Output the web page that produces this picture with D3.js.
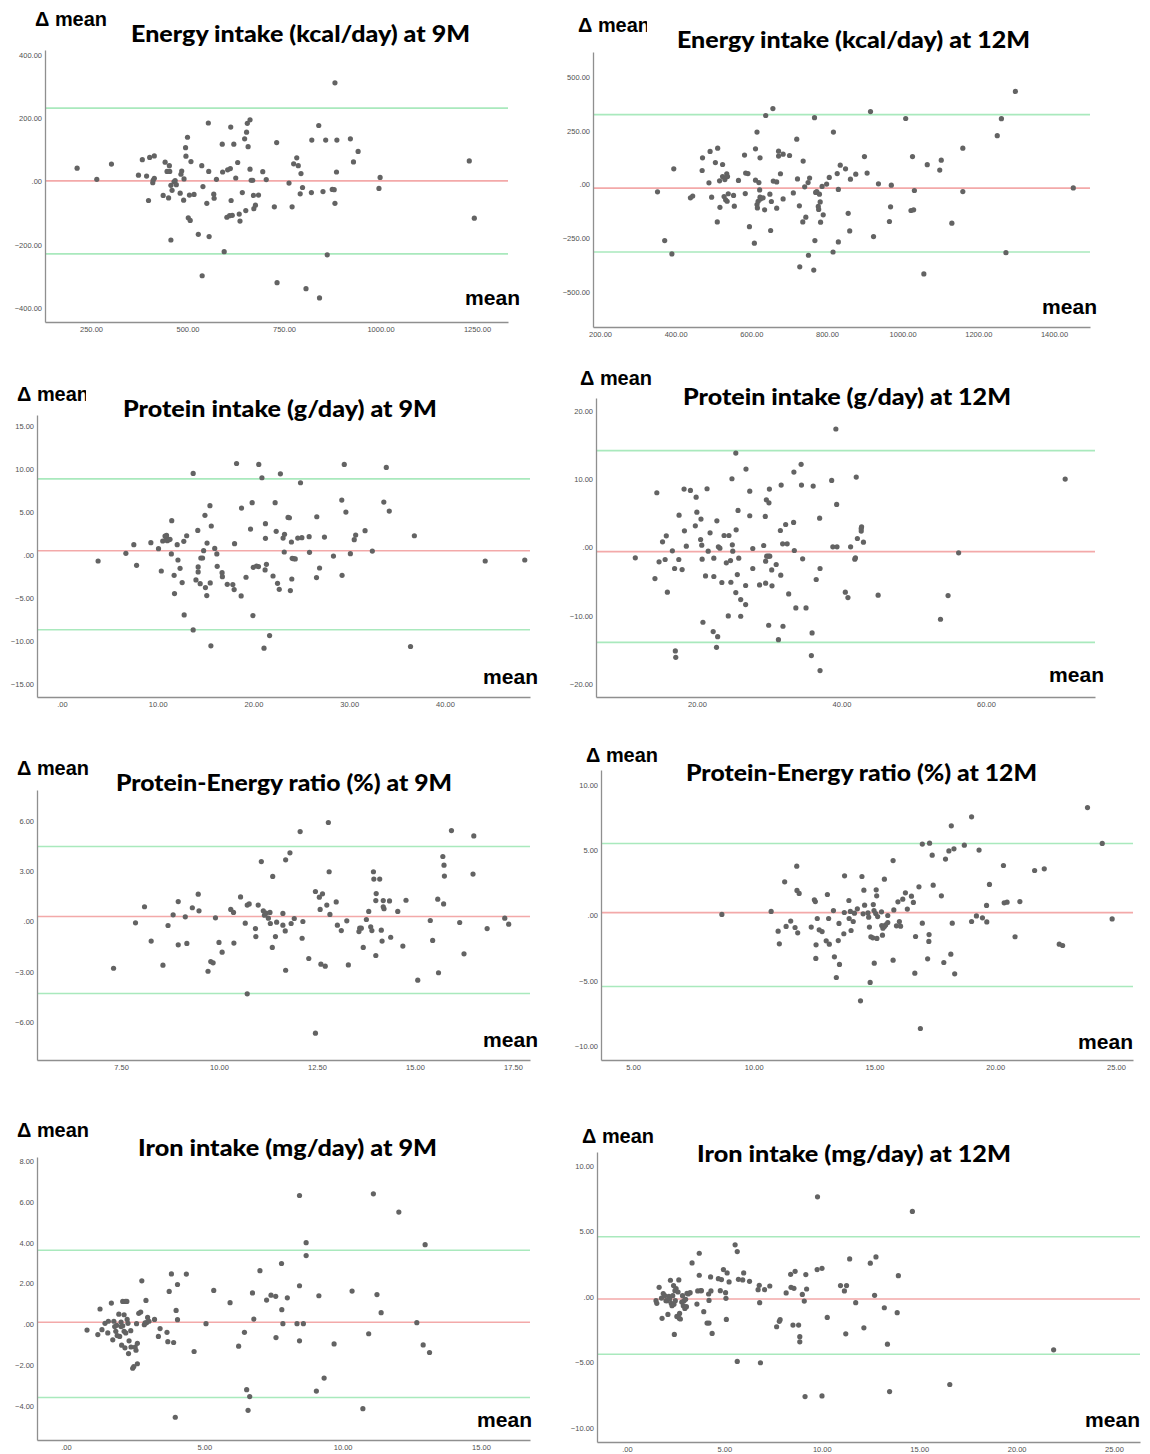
<!DOCTYPE html>
<html><head><meta charset="utf-8">
<script src="https://cdn.jsdelivr.net/npm/d3@7"></script>
<style>body{margin:0;background:#fff}</style>
</head><body>
<svg id="c" width="1150" height="1454"></svg>
<script>
// ---------- DATA: [mean, difference] pairs ----------
const energy9M = [[214,42],[265,7],[303,55],[373,20],[383,69],[394,17],[399,-60],[402,76],[410,-4],[411,4],[414,81],[414,10],[437,-44],[442,61],[447,32],[451,-52],[453,50],[454,32],[457,-185],[457,-12],[460,-28],[465,-1],[468,3],[471,-10],[481,-37],[483,23],[485,33],[490,-59],[491,8],[495,107],[496,80],[500,140],[502,-115],[505,-43],[507,-123],[509,63],[517,-41],[528,-167],[537,50],[538,-298],[540,-16],[550,-69],[554,185],[555,32],[556,-174],[568,-40],[569,-53],[575,7],[590,118],[591,30],[595,-222],[602,-113],[604,37],[609,-108],[611,41],[612,172],[613,-60],[616,-107],[620,118],[625,11],[630,60],[634,-103],[636,-125],[642,-35],[648,135],[651,-92],[653,156],[655,184],[657,110],[662,195],[662,39],[665,4],[669,4],[671,-44],[672,-86],[676,-75],[684,-43],[695,31],[704,6],[725,-80],[731,123],[732,-320],[763,-5],[771,-80],[775,56],[783,75],[787,50],[792,-39],[794,25],[798,-19],[807,-339],[821,-35],[822,131],[840,177],[842,-368],[851,-32],[858,131],[862,-232],[875,-25],[880,-26],[882,-69],[882,312],[886,30],[887,131],[922,135],[930,62],[942,95],[996,-22],[999,13],[1230,65],[1243,-116]];
const energy12M = [[352,-34],[371,-261],[390,-323],[395,73],[439,-62],[445,-54],[470,65],[471,124],[488,8],[491,154],[495,-59],[505,102],[510,-174],[511,169],[516,17],[517,-106],[524,93],[524,37],[528,-56],[530,23],[532,-71],[535,50],[536,-78],[537,37],[539,-43],[553,-51],[555,-101],[566,19],[582,137],[584,-42],[585,53],[591,51],[595,-196],[608,-273],[611,166],[611,20],[615,244],[615,-93],[616,-109],[618,-78],[620,9],[622,-25],[623,124],[623,-59],[624,-67],[631,-62],[635,-118],[638,321],[649,-45],[651,-214],[653,-79],[657,353],[658,16],[667,12],[667,-110],[672,155],[672,132],[677,50],[684,-67],[684,141],[701,135],[711,-39],[720,211],[722,26],[727,-99],[728,-383],[736,-174],[737,109],[741,-11],[744,-152],[750,9],[751,-329],[754,30],[765,-398],[767,311],[768,-261],[770,-37],[773,-33],[777,-102],[778,-116],[780,-45],[782,-81],[783,-175],[787,-9],[790,-141],[799,2],[806,33],[816,-314],[817,244],[827,51],[830,-23],[830,-267],[835,90],[849,73],[856,-134],[860,-216],[862,25],[876,48],[899,130],[906,53],[915,339],[923,-242],[936,3],[965,-172],[968,-104],[970,-3],[1008,307],[1022,-121],[1026,130],[1029,-118],[1031,-28],[1056,-416],[1065,92],[1098,67],[1102,113],[1130,-180],[1159,169],[1159,-33],[1250,227],[1261,306],[1273,-317],[1298,433],[1451,-16]];
const protein9M = [[3.77,-0.70],[6.67,0.19],[7.50,1.20],[7.79,-1.20],[9.28,1.43],[10.08,0.74],[10.37,-1.86],[10.52,1.63],[10.76,2.21],[10.88,1.97],[10.92,2.28],[10.99,1.66],[11.16,1.78],[11.28,1.82],[11.42,0.12],[11.46,3.99],[11.71,-2.36],[11.75,-4.49],[12.03,1.20],[12.11,-0.58],[12.33,-1.55],[12.55,-3.21],[12.72,1.59],[12.76,-6.97],[13.02,2.24],[13.70,9.48],[13.70,-8.71],[13.99,-2.90],[14.18,2.86],[14.22,-1.39],[14.22,-1.97],[14.43,-3.33],[14.50,-0.35],[14.68,-0.35],[14.79,0.50],[14.93,4.61],[14.98,-3.79],[15.12,-4.72],[15.15,1.39],[15.45,5.73],[15.48,-3.25],[15.55,-10.56],[15.59,3.37],[15.95,0.77],[16.17,0.12],[16.21,-1.32],[16.72,-2.05],[16.75,-2.52],[17.26,-3.41],[17.84,-3.44],[17.98,-4.02],[18.02,1.32],[18.23,10.64],[18.71,-4.76],[18.75,5.46],[19.22,-2.59],[19.69,3.02],[19.86,6.08],[19.94,-7.04],[19.98,-1.43],[20.31,-1.28],[20.52,-1.35],[20.55,10.53],[20.88,8.98],[21.10,-10.84],[21.21,-1.74],[21.25,1.94],[21.25,3.64],[21.35,-1.08],[21.68,-9.37],[22.04,-2.44],[22.26,6.08],[22.37,2.75],[22.51,-3.29],[22.69,-3.99],[22.81,9.44],[23.09,1.97],[23.21,0.35],[23.24,2.40],[23.61,4.37],[23.75,4.33],[23.85,-4.14],[23.96,1.51],[24.00,-2.79],[24.04,-0.39],[24.18,-0.43],[24.36,-0.46],[24.62,1.97],[24.91,8.40],[25.05,2.01],[25.81,2.13],[25.85,0.31],[26.58,-2.63],[26.61,4.45],[26.90,-1.51],[27.41,2.09],[28.35,-0.12],[29.22,6.39],[29.25,-2.36],[29.48,10.53],[29.65,4.99],[30.12,0.15],[30.52,1.78],[30.67,2.32],[31.65,2.83],[32.41,0.46],[33.61,6.15],[33.87,10.18],[34.18,5.11],[36.40,-10.64],[36.80,2.24],[44.20,-0.70],[48.33,-0.58]];
const protein12M = [[11.46,-1.52],[14.18,-4.55],[14.44,8.02],[14.75,-2.10],[15.23,0.83],[15.59,-1.76],[15.75,1.71],[15.90,-6.55],[16.59,-0.49],[16.90,-3.08],[17.48,-1.76],[17.52,4.74],[17.94,-3.23],[18.21,8.56],[18.26,2.45],[18.52,0.20],[19.09,8.36],[19.77,3.18],[19.88,7.38],[19.98,5.18],[20.50,1.17],[20.55,4.16],[20.66,0.34],[20.71,-1.71],[21.18,-4.16],[21.39,8.61],[21.55,-0.54],[21.81,2.15],[20.82,-10.95],[22.33,-1.56],[22.33,-4.25],[22.75,3.91],[22.96,0.10],[23.17,-0.10],[23.44,-5.13],[23.75,1.76],[24.06,-2.25],[24.33,-10.02],[24.42,1.76],[24.64,-1.91],[24.69,-5.09],[24.84,10.07],[24.89,0.39],[24.95,-0.54],[25.37,-6.60],[25.37,13.84],[25.42,2.59],[25.58,-3.96],[25.68,5.43],[25.78,-1.56],[26.05,-7.63],[26.05,-10.07],[26.73,-5.57],[26.73,-8.36],[26.78,11.49],[27.30,4.65],[27.30,8.26],[27.72,-0.15],[27.72,-3.08],[28.66,-5.48],[29.23,0.29],[29.45,4.55],[29.50,-2.00],[29.50,-5.23],[29.60,6.99],[29.65,-1.27],[29.87,-1.27],[29.92,-11.39],[29.96,6.55],[30.02,8.56],[30.07,-1.27],[30.34,-3.28],[30.38,-5.62],[30.96,-2.49],[31.27,-13.50],[31.54,2.49],[31.59,-4.06],[31.65,9.14],[31.85,0.54],[31.90,-11.54],[32.27,3.37],[32.48,0.54],[32.69,-6.80],[33.37,3.67],[33.41,11.05],[33.47,-0.44],[33.68,-8.85],[34.41,12.18],[34.46,9.14],[34.62,-1.66],[35.09,-8.85],[35.93,-12.52],[36.08,9.00],[35.83,-15.84],[36.50,-4.69],[36.97,4.30],[37.03,-3.08],[37.03,-18.04],[38.64,9.83],[38.80,0.10],[39.33,6.31],[39.38,0.10],[40.53,-6.55],[40.89,-7.34],[41.26,0.10],[41.84,-1.71],[41.93,-1.52],[42.04,10.32],[42.20,1.32],[42.73,2.79],[42.73,2.40],[42.78,3.03],[43.04,0.78],[45.07,-6.99],[53.70,-10.51],[54.75,-7.04],[56.21,-0.78],[70.96,10.02],[39.22,17.36],[22.24,-12.32],[22.86,-13.06],[22.70,-14.62],[17.0,-15.16],[17.06,-16.09]];
const peRatio9M = [[7.31,-2.79],[7.87,-0.08],[8.10,0.88],[8.27,-1.17],[8.57,-2.61],[8.70,-0.24],[8.83,0.40],[8.96,1.19],[8.96,-1.39],[9.14,0.28],[9.18,-1.31],[9.32,0.82],[9.47,1.63],[9.49,0.64],[9.72,-2.97],[9.79,-2.39],[9.85,-2.47],[9.91,0.22],[10.0,-1.25],[10.08,-1.83],[10.30,0.72],[10.37,0.54],[10.38,-1.29],[10.55,1.47],[10.67,-0.10],[10.72,0.98],[10.77,1.05],[10.93,-0.42],[10.94,-0.90],[11.0,0.98],[11.08,3.58],[11.13,0.64],[11.16,0.38],[11.20,0.50],[11.26,0.20],[11.30,0.54],[11.31,-0.12],[11.36,-1.55],[11.37,2.69],[11.44,-0.90],[11.47,-0.04],[11.63,0.48],[11.63,-0.22],[11.69,-0.56],[11.70,3.68],[11.70,-2.91],[11.81,4.10],[11.84,-0.12],[11.92,0.18],[12.07,5.37],[12.12,-1.0],[12.14,0],[12.29,-2.21],[12.46,1.79],[12.56,1.45],[12.58,0.72],[12.60,-2.55],[12.64,1.65],[12.71,-2.67],[12.75,0.98],[12.79,5.91],[12.81,2.97],[12.83,0.42],[12.99,1.17],[13.02,-0.22],[13.12,-0.54],[13.26,0.04],[13.30,-2.59],[13.57,-0.60],[13.59,-0.40],[13.63,-0.40],[13.68,-1.55],[13.76,0.12],[13.82,0.60],[13.87,-0.32],[13.90,-0.54],[13.94,2.97],[13.95,2.53],[14.0,-2.03],[14.0,1.25],[14.01,1.67],[14.10,2.53],[14.14,-0.52],[14.16,-1.17],[14.19,1.25],[14.19,0.88],[14.21,0.76],[14.35,1.23],[14.38,-0.94],[14.56,0.60],[14.69,-1.47],[14.77,1.27],[15.07,-3.50],[15.39,0.06],[15.45,-1.13],[15.58,1.33],[15.60,-3.06],[15.71,3.88],[15.73,1.05],[15.74,3.36],[15.75,2.71],[15.93,5.43],[16.14,-0.06],[16.25,-1.93],[16.48,2.83],[16.50,5.11],[16.84,-0.42],[17.29,0.20],[17.39,-0.16],[10.72,-4.32],[12.46,-6.67]];
const peRatio12M = [[8.68,0.08],[10.72,0.31],[11.01,-1.20],[11.06,-2.17],[11.28,2.58],[11.34,-0.84],[11.53,-0.43],[11.71,-0.92],[11.78,3.78],[11.79,1.92],[11.82,-1.33],[11.88,1.69],[12.38,-0.89],[12.51,1.20],[12.55,1.07],[12.57,-3.29],[12.58,-2.25],[12.63,-0.23],[12.71,-1.10],[12.83,-1.23],[13.0,-1.94],[13.05,1.61],[13.10,-0.23],[13.13,-2.20],[13.30,0.38],[13.34,-3.17],[13.42,-4.75],[13.50,-1.92],[13.53,-0.61],[13.55,-3.75],[13.73,-1.40],[13.75,0.23],[13.76,3.04],[13.94,1.15],[13.95,-0.23],[14.0,0.31],[14.03,-1.15],[14.12,-0.46],[14.17,0.18],[14.29,0.51],[14.48,2.99],[14.53,0.13],[14.56,1.94],[14.59,0.79],[14.73,0.20],[14.76,-0.13],[14.79,-0.89],[14.82,-5.13],[14.85,-1.63],[14.93,-1.71],[14.95,0.84],[14.98,0.38],[14.99,-3.65],[15.05,0.15],[15.07,1.97],[15.09,1.51],[15.10,-1.76],[15.13,-0.08],[15.29,0.28],[15.30,-0.77],[15.33,-1.51],[15.35,-0.97],[15.41,2.78],[15.41,-0.84],[15.46,-0.72],[15.55,0],[15.55,-0.54],[15.77,4.21],[15.77,-3.42],[15.80,0.43],[15.91,-0.79],[15.97,1.05],[16.03,-0.46],[16.08,-0.82],[16.17,1.25],[16.28,1.74],[16.36,0.49],[16.53,1.48],[16.61,1.0],[16.67,-4.42],[16.70,-1.61],[16.84,2.20],[16.90,-8.66],[16.98,5.47],[16.98,-0.59],[17.20,-3.32],[17.25,-1.99],[17.26,-1.46],[17.28,5.54],[17.39,4.62],[17.43,2.32],[17.77,1.51],[17.87,-3.60],[17.94,4.32],[18.08,4.95],[18.16,-2.96],[18.18,6.87],[18.22,-0.59],[18.29,5.11],[18.32,-4.47],[18.72,5.39],[19.02,7.56],[19.02,-0.46],[19.22,-0.03],[19.33,5.01],[19.47,-0.18],[19.64,0.77],[19.65,-0.49],[19.76,2.38],[20.34,3.83],[20.37,0.97],[20.49,1.02],[20.82,-1.63],[21.02,1.07],[21.63,3.45],[22.03,3.58],[22.65,-2.20],[22.79,-2.30],[23.82,8.27],[24.43,5.52],[24.84,-0.26],[14.42,-6.54]];
const iron9M = [[0.76,-0.28],[1.15,-0.50],[1.23,0.75],[1.30,-0.26],[1.41,0.05],[1.51,-0.42],[1.53,0.15],[1.64,1.04],[1.69,-0.76],[1.73,0.15],[1.76,-0.11],[1.80,-0.34],[1.83,-0.05],[1.85,-0.55],[1.91,0.50],[1.94,-0.59],[1.99,0.11],[1.99,-0.11],[2.01,-1.02],[2.05,1.12],[2.05,-0.07],[2.10,0.47],[2.10,-0.34],[2.13,-1.15],[2.15,1.12],[2.16,-0.42],[2.20,1.12],[2.21,0.24],[2.24,0.05],[2.26,-1.43],[2.28,-0.81],[2.34,-0.31],[2.35,-1.11],[2.41,-2.15],[2.45,-2.07],[2.50,-1.11],[2.53,-1.27],[2.55,0.03],[2.58,-0.93],[2.58,-1.93],[2.63,0.54],[2.70,0.60],[2.74,2.13],[2.83,-0.02],[2.86,0.07],[2.89,1.17],[2.91,0.08],[2.95,0.34],[3.0,0.15],[3.20,0.24],[3.34,-0.59],[3.40,-0.21],[3.65,-0.39],[3.68,-0.85],[3.73,1.61],[3.81,2.47],[3.89,-0.89],[3.98,0.68],[4.03,1.95],[4.03,0.23],[3.95,-4.55],[4.35,2.46],[4.63,-1.33],[5.06,0.03],[5.34,1.66],[5.93,1.06],[6.24,-1.07],[6.45,-0.39],[6.53,-3.20],[6.58,-4.21],[6.64,-3.54],[6.74,1.54],[6.79,0.26],[7.01,2.63],[7.25,1.19],[7.41,1.43],[7.58,1.37],[7.59,-0.65],[7.79,2.98],[7.80,0.72],[7.84,0.03],[8.0,1.30],[8.35,0.03],[8.44,6.31],[8.44,1.89],[8.44,-0.81],[8.58,0.03],[8.68,4.0],[8.68,3.37],[9.05,-3.27],[9.14,1.40],[9.33,-2.63],[9.69,-0.96],[10.34,1.63],[10.73,-4.13],[10.94,-0.46],[11.11,6.39],[11.24,1.46],[11.39,0.57],[12.03,5.50],[12.68,0.08],[12.91,-1.01],[12.98,3.90],[13.14,-1.38]];
const iron12M = [[1.49,-0.28],[1.53,-0.48],[1.65,0.74],[1.77,-0.08],[1.80,-1.63],[1.86,0.26],[1.94,0.10],[2.00,-0.28],[2.06,-0.28],[2.10,-1.33],[2.15,0.05],[2.19,-0.15],[2.23,1.28],[2.27,-0.48],[2.31,-0.66],[2.35,0.10],[2.39,0.87],[2.41,-0.56],[2.43,-2.86],[2.46,0.48],[2.48,-0.28],[2.52,0.64],[2.56,-1.48],[2.62,0.38],[2.66,1.30],[2.68,-1.63],[2.70,-1.25],[2.74,-1.68],[2.81,-0.38],[2.85,0.10],[2.89,-0.66],[2.93,-0.28],[2.97,-0.87],[3.01,-0.18],[3.05,-0.74],[3.08,0.28],[3.14,0.23],[3.24,0.33],[3.34,2.60],[3.59,-0.54],[3.63,0.46],[3.71,1.66],[3.71,3.34],[3.78,0.48],[3.82,0.48],[3.94,-1.12],[4.11,-1.99],[4.19,0.23],[4.21,-0.26],[4.29,1.53],[4.31,0.46],[4.37,-2.78],[4.21,-1.99],[4.69,1.40],[4.79,0.48],[4.85,1.33],[4.95,2.09],[5.06,0.33],[5.08,-0.10],[5.10,-1.71],[5.14,1.84],[5.24,1.15],[5.55,3.98],[5.66,3.47],[5.66,-4.92],[5.72,1.35],[5.94,1.30],[5.99,1.84],[6.29,1.20],[6.73,0.56],[6.79,0.89],[6.81,-0.43],[6.85,-5.02],[7.06,0.56],[7.33,0.84],[7.68,-2.27],[7.82,-1.86],[7.86,-1.73],[8.17,0.31],[8.40,1.73],[8.42,0.74],[8.52,-2.14],[8.57,0.66],[8.63,1.96],[8.81,-2.14],[8.87,-3.03],[8.87,-3.42],[9.0,0.20],[9.10,-0.31],[9.14,-7.60],[9.18,1.71],[9.22,0.61],[9.76,2.09],[9.78,7.65],[10.01,-7.55],[10.01,2.19],[10.28,-1.56],[10.96,0.87],[11.16,0.46],[11.23,-2.81],[11.27,0.87],[11.43,2.91],[11.74,-0.43],[12.16,-2.35],[12.49,2.58],[12.71,0.13],[12.78,3.06],[13.21,-0.82],[13.37,-3.60],[13.48,-7.22],[13.87,-1.20],[13.93,1.63],[14.65,6.53],[16.57,-6.68],[21.90,-4.03]];

// [bias, upper LoA, lower LoA]
const energy9M_lines = [2, 232, -229];
const energy12M_lines = [-17, 325, -314];
const protein9M_lines = [0.5, 8.85, -8.7];
const protein12M_lines = [-0.6, 14.2, -13.9];
const peRatio9M_lines = [0.3, 4.48, -4.3];
const peRatio12M_lines = [0.22, 5.52, -5.44];
const iron9M_lines = [0.1, 3.63, -3.58];
const iron12M_lines = [-0.15, 4.6, -4.37];

// tick values
const energy9M_xTicks = [250, 500, 750, 1000, 1250];
const energy9M_yTicks = [-400, -200, 0, 200, 400];
const energy12M_xTicks = [200, 400, 600, 800, 1000, 1200, 1400];
const energy12M_yTicks = [-500, -250, 0, 250, 500];
const protein9M_xTicks = [0, 10, 20, 30, 40];
const protein9M_yTicks = [-15, -10, -5, 0, 5, 10, 15];
const protein12M_xTicks = [20, 40, 60];
const protein12M_yTicks = [-20, -10, 0, 10, 20];
const peRatio9M_xTicks = [7.5, 10, 12.5, 15, 17.5];
const peRatio9M_yTicks = [-6, -3, 0, 3, 6];
const peRatio12M_xTicks = [5, 10, 15, 20, 25];
const peRatio12M_yTicks = [-10, -5, 0, 5, 10];
const iron9M_xTicks = [0, 5, 10, 15];
const iron9M_yTicks = [-4, -2, 0, 2, 4, 6, 8];
const iron12M_xTicks = [0, 5, 10, 15, 20, 25];
const iron12M_yTicks = [-10, -5, 0, 5, 10];

const titles = ["Energy intake (kcal/day) at 9M","Energy intake (kcal/day) at 12M",
  "Protein intake (g/day) at 9M","Protein intake (g/day) at 12M",
  "Protein-Energy ratio (%) at 9M","Protein-Energy ratio (%) at 12M",
  "Iron intake (mg/day) at 9M","Iron intake (mg/day) at 12M"];

// ---------- LAYOUT ----------
// f: frame L,T,R,B ; xr/yr: two tick values and their pixel positions
const panels = [
 {data:energy9M, lines:energy9M_lines, xt:energy9M_xTicks, yt:energy9M_yTicks,
  f:[45,50,508,322], xr:[250,91,1250,477], yr:[400,55,-400,308],
  t:[131,42,339], d:[35,26,null], m:[465,305]},
 {data:energy12M, lines:energy12M_lines, xt:energy12M_xTicks, yt:energy12M_yTicks,
  f:[593,52,1090,327], xr:[200,600,1400,1054], yr:[500,77,-500,292],
  t:[677,48,353], d:[578,32,647], m:[1042,314]},
 {data:protein9M, lines:protein9M_lines, xt:protein9M_xTicks, yt:protein9M_yTicks,
  f:[37,415,530,697], xr:[0,62,40,445], yr:[15,426,-15,684],
  t:[123,417,314], d:[17,401,86], m:[483,684]},
 {data:protein12M, lines:protein12M_lines, xt:protein12M_xTicks, yt:protein12M_yTicks,
  f:[596,398,1095,697], xr:[20,697,60,986], yr:[20,411,-20,684],
  t:[683,405,328], d:[580,385,null], m:[1049,682]},
 {data:peRatio9M, lines:peRatio9M_lines, xt:peRatio9M_xTicks, yt:peRatio9M_yTicks,
  f:[37,790,530,1060], xr:[7.5,121,17.5,513], yr:[6,821,-6,1022],
  t:[116,791,336], d:[17,775,null], m:[483,1047]},
 {data:peRatio12M, lines:peRatio12M_lines, xt:peRatio12M_xTicks, yt:peRatio12M_yTicks,
  f:[601,770,1133,1060], xr:[5,633,25,1116], yr:[10,785,-10,1046],
  t:[686,781,351], d:[586,762,null], m:[1078,1049]},
 {data:iron9M, lines:iron9M_lines, xt:iron9M_xTicks, yt:iron9M_yTicks,
  f:[37,1157,530,1440], xr:[0,66,15,481], yr:[8,1161,-4,1406],
  t:[138,1156,299], d:[17,1137,null], m:[477,1427]},
 {data:iron12M, lines:iron12M_lines, xt:iron12M_xTicks, yt:iron12M_yTicks,
  f:[597,1152,1140,1442], xr:[0,627,25,1114], yr:[10,1166,-10,1428],
  t:[697,1162,314], d:[582,1143,null], m:[1085,1427]}
];

const svg = d3.select('#c');
const fmt = v => v === 0 ? '.00' : d3.format('.2f')(v);
const defs = svg.append('defs');

panels.forEach((p, i) => {
  const [L, T, R, B] = p.f;
  const g = svg.append('g').attr('class', 'panel');
  const x = d3.scaleLinear().domain([p.xr[0], p.xr[2]]).range([p.xr[1], p.xr[3]]);
  const y = d3.scaleLinear().domain([p.yr[0], p.yr[2]]).range([p.yr[1], p.yr[3]]);
  x.domain([x.invert(L), x.invert(R)]).range([L, R]);
  y.domain([y.invert(B), y.invert(T)]).range([B, T]);

  // reference lines: bias (red), limits of agreement (green)
  const lineCols = ['#f3a9a9', '#a9e9bd', '#a9e9bd'];
  g.selectAll('line.ref').data(p.lines).join('line').attr('class','ref')
    .attr('x1', L).attr('x2', R)
    .attr('y1', d => y(d)).attr('y2', d => y(d))
    .attr('stroke', (d, k) => lineCols[k]).attr('stroke-width', 1.6);

  // axes
  const xa = g.append('g').attr('transform', `translate(0,${B})`)
    .call(d3.axisBottom(x).tickValues(p.xt).tickFormat(fmt).tickSize(0).tickPadding(5));
  const ya = g.append('g').attr('transform', `translate(${L},0)`)
    .call(d3.axisLeft(y).tickValues(p.yt).tickFormat(fmt).tickSize(0).tickPadding(3));
  [xa, ya].forEach(a => {
    a.select('.domain').attr('stroke', '#8f8f8f').attr('stroke-width', 1.3);
    a.selectAll('text').attr('font-family', 'Liberation Sans, Arial, sans-serif')
      .attr('font-size', 7.5).attr('fill', '#505050');
  });

  // points
  g.selectAll('circle').data(p.data).join('circle')
    .attr('cx', d => x(d[0])).attr('cy', d => y(d[1]))
    .attr('r', 2.6).attr('fill', '#636363');

  // title
  g.append('text').attr('x', p.t[0]).attr('y', p.t[1])
    .attr('textLength', p.t[2]).attr('lengthAdjust', 'spacingAndGlyphs')
    .attr('font-family', 'Lato, "Open Sans", sans-serif').attr('font-weight', 900)
    .attr('font-size', 22).attr('fill', '#000').text(titles[i]);

  // delta mean label
  const dl = g.append('text').attr('x', p.d[0]).attr('y', p.d[1])
    .attr('textLength', 72).attr('lengthAdjust', 'spacingAndGlyphs')
    .attr('font-family', 'Liberation Sans, Arial, sans-serif').attr('font-weight', 700)
    .attr('font-size', 20).attr('fill', '#000').text('\u0394 mean');
  if (p.d[2]) {
    defs.append('clipPath').attr('id', 'dclip' + i).append('rect')
      .attr('x', p.d[0] - 5).attr('y', p.d[1] - 25).attr('width', p.d[2] - p.d[0] + 5).attr('height', 35);
    dl.attr('clip-path', `url(#dclip${i})`);
  }

  // mean label
  g.append('text').attr('x', p.m[0]).attr('y', p.m[1])
    .attr('textLength', 55).attr('lengthAdjust', 'spacingAndGlyphs')
    .attr('font-family', 'Liberation Sans, Arial, sans-serif').attr('font-weight', 700)
    .attr('font-size', 20).attr('fill', '#000').text('mean');
});
</script>
</body></html>
